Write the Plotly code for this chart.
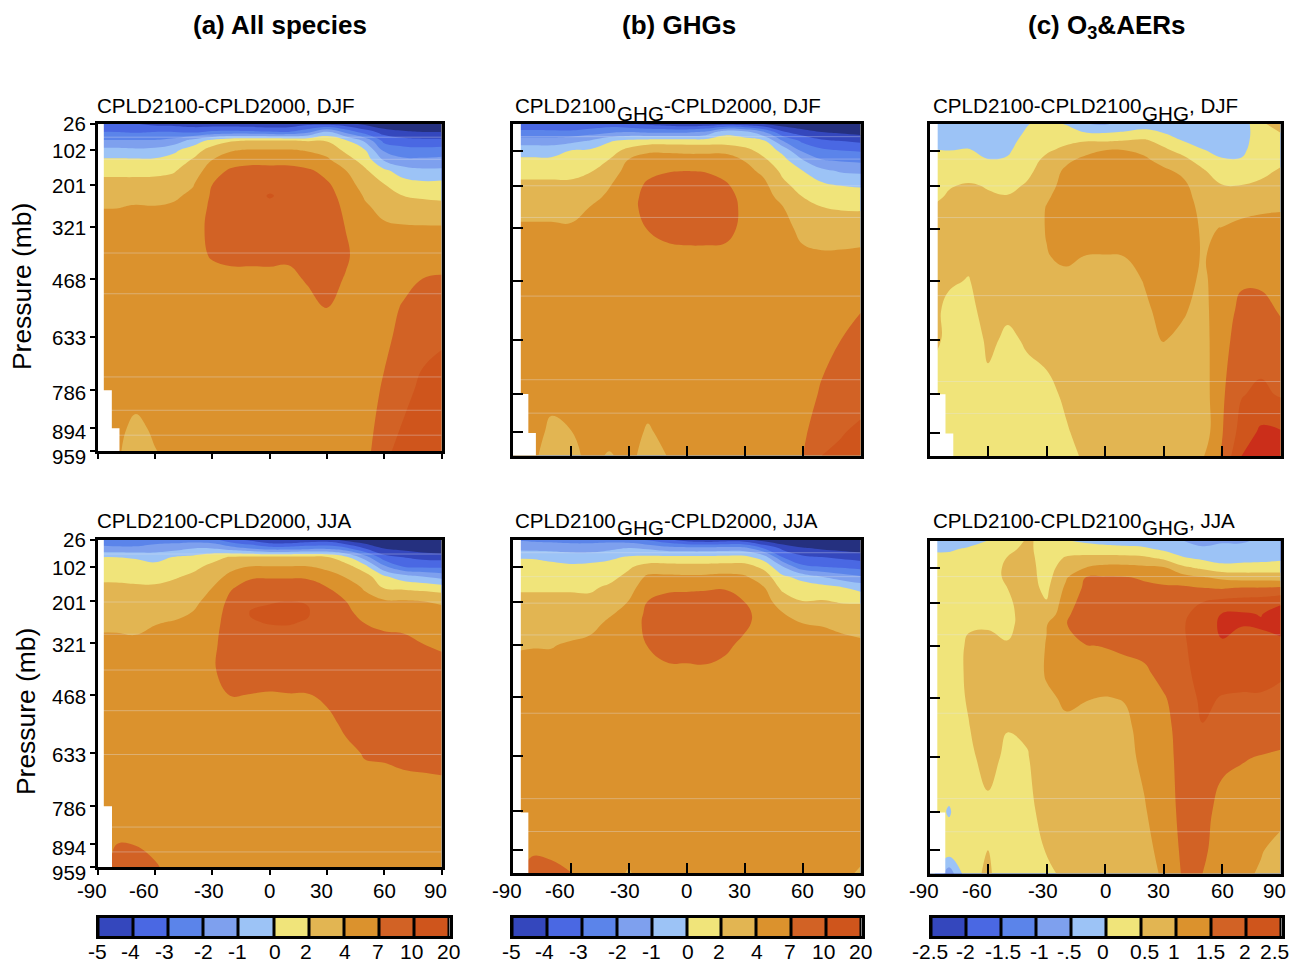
import numpy as np
import plotly.graph_objects as go

LATS = [-90,-80,-70,-60,-50,-40,-30,-20,-10,0,10,20,30,40,50,60,70,80,90]
PLEV = [26,50,75,102,130,160,201,232,260,321,400,468,550,633,786,894,959]
PTICKS = [26,102,201,321,468,633,786,894,959]
XTICKS = [-90,-60,-30,0,30,60,90]
LEVELS_K = [-5,-4,-3,-2,-1,0,2,4,7,10,20]
LEVELS_C = [-2.5,-2,-1.5,-1,-.5,0,.5,1,1.5,2,2.5]
LABELS_K = ["-5","-4","-3","-2","-1","0","2","4","7","10","20"]
LABELS_C = ["-2.5","-2","-1.5","-1","-.5","0","0.5","1","1.5","2","2.5"]
LABELPOS_K = [0,.96,1.92,3.02,3.98,5.02,5.9,7,7.94,8.88,9.94]
LABELPOS_C = [0,1,2.06,3.1,3.96,4.9,6.08,6.9,7.94,8.92,9.77]
XLABEL_SHIFT = [-4,-10,-3,0,-6,-1,-8]
YLABEL_DJF = [123,151,185,227,280,338,393,431,456]
YLABEL_JJA = [539,567,602,644,696,754,808,847,872]
NAVY = "#25307F"
RED = "#CB2E1A"
BANDS = ["#3447BD","#4A68E3","#5B84EA","#7EA0EE","#9CC3F6","#F0E47A","#E2B552","#DB922D","#D26225","#CF551C"]

# one row per latitude, one value per pressure level in PLEV
A_DJF = [
[-3.6,-3,-1.9,-.7,.3,1.5,2.6,3.3,3.9,5,5.5,5.5,5.5,5.5,5.5,5.5,5.5],
[-3.7,-3,-1.9,-.7,.3,1.5,2.6,3.3,3.9,5,5.5,5.5,5.5,5.5,5.5,5,4.5],
[-4,-3.1,-1.9,-.8,.3,1.5,2.6,3.4,4.1,5,5.5,5.5,5.5,5.5,5.5,3.4,3],
[-4.3,-3,-1.9,-.7,.3,1.5,2.7,3.4,4,5,5.5,5.5,5.5,5.5,5.5,4.6,3.9],
[-4.4,-3,-1.6,-.2,.8,1.8,3,3.7,4.3,5.2,5.5,5.5,5.5,5.5,5.5,5.5,5],
[-4.6,-3.2,-.6,1,2.2,3.1,3.9,4.6,5.2,5.8,6,5.8,5.5,5.5,5.5,5.5,5.5],
[-4.7,-2.8,.7,2.9,4,5.3,7,7.4,7.6,7.8,7.3,6,5.5,5.5,5.5,5.5,5.5],
[-4.7,-2.7,1.8,3.9,5,7.6,8.2,8.4,8.5,8.6,8,5.9,5.5,5.5,5.5,5.5,5.5],
[-4.8,-2.8,2.1,4.2,6,8,8.8,9.2,9.3,9,8,5.9,5.5,5.5,5.5,5.5,5.5],
[-5,-2.9,2.1,4.2,6,7.9,9.4,10.5,9.6,9.2,8,6,5.5,5.5,5.5,5.5,5.5],
[-4.8,-3,2.1,4.2,6,7.9,9,9.5,9.5,9,7.7,6.1,5.5,5.5,5.5,5.5,5.5],
[-4.4,-2.3,1.9,3.9,5,7.5,8.6,8.9,9,9,8.4,7.4,5.8,5.5,5.5,5.5,5.5],
[-4.6,-.8,1.9,3.3,4.5,6,7.5,8,8.3,8.6,8.5,8,7.1,5.5,5.5,5.5,5.5],
[-4.8,-2.3,.3,1.6,2.8,4,5.3,6,6.4,6.9,7.4,6.8,5.8,5.5,5.5,5.5,5.5],
[-5.3,-3.5,-1.2,.1,1.2,2.3,3.2,3.8,4.3,5,5.5,5.5,5.5,5.5,5.6,5.7,5.9],
[-6,-4.4,-3.3,-2.2,-1.1,.4,2.1,2.9,3.4,4.4,5,5.5,5.8,6.3,7.4,8.5,9.4],
[-6.3,-4.8,-3.6,-2.6,-1.8,-.5,.9,2,3,4.2,5,6,7.3,7.9,9,11,13],
[-6.5,-5,-3.7,-2.7,-1.8,-.8,.6,1.7,2.6,4.2,5.5,7,8,8.9,12.5,14,15],
[-6.5,-5,-3.7,-2.6,-1.7,-.8,.7,1.6,2.4,4.2,5.5,7.3,8.4,9.6,14,15,16],
]
B_DJF = [
[-3.6,-2.8,-1.5,-.4,.4,1.6,2.3,2.9,3.4,4.4,5.2,5.5,5.5,5.5,5.5,5.5,5.5],
[-3.6,-2.8,-1.5,-.4,.4,1.6,2.3,2.9,3.4,4.4,5.2,5.5,5.5,5.5,5.5,5.5,4.7],
[-3.7,-2.8,-1.5,-.4,.4,1.6,2.3,2.9,3.4,4.4,5.2,5.5,5.5,5.5,5,3.5,3.1],
[-3.9,-2.8,-1.3,0,.6,1.6,2.3,2.9,3.4,4.3,5.2,5.5,5.5,5.5,5.5,3.9,3.3],
[-3.8,-2.5,-.9,.3,1,1.9,2.6,3.4,4,4.9,5.3,5.5,5.5,5.5,5.5,5.5,4.9],
[-3.6,-2.2,-.1,1.1,2.1,3,3.9,4.5,5,5.5,5.5,5.5,5.5,5.5,5.5,5.3,3.8],
[-4,-2,.6,2.6,4.2,5,5.6,5.9,6,5.8,5.5,5.5,5.5,5.5,5.5,5.5,4.9],
[-4.3,-2.2,.9,3.7,5.2,6.3,7.5,7.9,8,7.1,5.7,5.5,5.5,5.5,5.5,3.7,3.2],
[-4.6,-2.2,1,3.7,5.3,6.9,7.9,8.4,8.5,8,6,5.5,5.5,5.5,5.5,5,4.05],
[-4.9,-2.2,1,3.6,5.2,7.05,8.2,8.7,8.8,8.2,6.2,5.5,5.5,5.5,5.5,5.5,5.5],
[-4.8,-1.8,1,3.6,5.2,6.9,8.1,8.6,8.7,8.2,6.2,5.5,5.5,5.5,5.5,5.5,5.5],
[-4.6,-.3,1,3.6,5.2,6.2,7.4,7.9,8,7.9,6.2,5.5,5.5,5.5,5.5,5.5,5.5],
[-4.8,-.6,.8,2.6,3.95,4.9,5.8,6.3,6.5,6.3,5.7,5.5,5.5,5.5,5.5,5.5,5.5],
[-5.2,-1.9,.3,1.3,2.4,3.6,4.7,5.2,5.4,5.5,5.5,5.5,5.5,5.5,5.5,5.5,5.5],
[-5.6,-3.9,-2,-.3,.7,1.5,2.5,3.3,4,4.9,5.4,5.5,5.5,5.5,5.6,5.7,5.8],
[-6,-4.5,-3.2,-2.2,-.9,.1,1.2,2,2.5,3.5,4.6,5.2,5.5,5.6,5.9,6.4,6.9],
[-6.5,-5,-3.8,-2.8,-1.9,-.7,.5,1.4,2,3.1,4.4,5.1,5.6,6.2,7.3,8.8,10],
[-6.8,-5.2,-4,-3,-2.1,-1.1,0,1.1,1.8,3,4.5,5.4,6.2,7,8.4,9.9,11],
[-7,-5.4,-4.2,-3.1,-2.2,-1.2,-.1,1,1.7,3.2,4.6,5.7,6.9,7.9,9.4,11,13],
]
C_DJF = [
[-.4,-.3,-.15,.05,.15,.22,.3,.38,.5,.6,.65,.6,.65,.65,.3,.3,.3],
[-.35,-.3,-.15,0,.1,.2,.47,.55,.6,.65,.65,.55,.4,.4,.3,.3,.3],
[-.3,-.25,-.12,.03,.15,.3,.55,.6,.62,.62,.58,.48,.35,.3,.25,.25,.25],
[-.3,-.25,-.2,-.1,.02,.15,.47,.55,.6,.63,.65,.68,.7,.56,.42,.3,.25],
[-.28,-.22,-.15,-.07,.06,.2,.38,.53,.6,.65,.68,.65,.55,.45,.35,.25,.25],
[-.03,.05,.15,.25,.32,.4,.55,.6,.65,.68,.7,.68,.62,.53,.4,.3,.25],
[.15,.2,.3,.45,.6,.7,.8,.93,1.02,1.03,.97,.8,.7,.6,.42,.35,.3],
[-.05,.25,.42,.6,.9,1.1,1.2,1.25,1.3,1.25,1.1,.85,.75,.65,.55,.47,.4],
[-.52,-.03,.48,.85,1.15,1.3,1.4,1.42,1.42,1.3,.98,.8,.75,.7,.65,.6,.55],
[-.58,-.05,.47,1.02,1.25,1.35,1.42,1.45,1.45,1.35,.97,.8,.75,.7,.65,.6,.58],
[-.35,.02,.53,1.02,1.2,1.35,1.42,1.45,1.45,1.35,1,.8,.75,.7,.65,.6,.58],
[-.3,.15,.58,.9,1.1,1.3,1.4,1.42,1.42,1.35,1.2,1.02,.9,.8,.7,.65,.6],
[-.25,-.03,.35,.6,.85,1.1,1.25,1.3,1.35,1.35,1.3,1.25,1.15,1.02,.75,.65,.6],
[-.3,-.2,0,.35,.65,.9,1.12,1.2,1.25,1.3,1.3,1.2,1.05,.9,.75,.65,.6],
[-.25,-.2,-.1,.02,.3,.58,.7,.78,.85,.93,.95,.9,.85,.8,.75,.7,.95],
[-.3,-.25,-.15,-.08,.03,.2,.53,.65,.75,1.02,1.2,1.25,1.3,1.35,1.42,1.47,1.55],
[-.3,-.25,-.15,-.07,.03,.2,.52,.72,.88,1.1,1.3,1.45,1.6,1.7,1.97,2.2,2.5],
[.42,.3,.22,.2,.25,.4,.58,.75,.95,1.1,1.3,1.45,1.6,1.75,2.1,2.6,2.8],
[.75,.52,.3,.3,.42,.55,.7,.85,.97,1.1,1.2,1.3,1.47,1.6,1.95,2.55,2.9],
]
A_JJA = [
[-2.5,-1.7,0,.8,1.6,2.3,2.9,3.2,3.6,4.6,5.3,5.5,5.5,5.5,5.5,5.5,5.5],
[-2.6,-1.8,0,.8,1.6,2.3,2.9,3.2,3.6,4.6,5.3,5.5,5.5,5.5,5.8,7,7.6],
[-2.6,-1.8,-.1,.8,1.5,2.2,2.8,3.2,3.6,4.4,5.3,5.5,5.5,5.5,5.8,6.95,7.7],
[-2.4,-1.6,-.3,.5,1.4,2.2,2.8,3.4,3.9,4.8,5.4,5.5,5.5,5.5,5.7,6,7.4],
[-2.4,-1.4,.1,1,1.8,2.5,3,3.6,4.1,5,5.5,5.5,5.5,5.5,5.5,5.5,5.8],
[-2.4,-1,.5,1.6,2.3,2.8,3.6,4.05,4.6,5.4,5.5,5.5,5.5,5.5,5.5,5.5,5.5],
[-2.6,-1,1.4,2.4,3.2,3.95,4.9,5.5,5.8,6.3,6.6,6.3,5.6,5.5,5.5,5.5,5.5],
[-3.6,-1.5,2.2,3.5,4.8,6.7,7.9,8.3,8.5,8.7,8.4,7.1,5.6,5.5,5.5,5.5,5.5],
[-4.2,-2,2.5,4.1,6.6,8,9.6,10.3,9.9,9,8.2,6.95,5.6,5.5,5.5,5.5,5.5],
[-4.9,-2.5,2.5,4.1,6.7,8.2,9.9,10.8,10.3,9.3,8.2,6.8,5.6,5.5,5.5,5.5,5.5],
[-4.9,-2.5,2.5,4.1,6.7,8.2,10,10.9,10.4,9.3,8.4,6.9,5.7,5.5,5.5,5.5,5.5],
[-4.6,-2.3,2.5,4.1,6.6,8.1,9.9,10.5,9.9,9.2,8.3,6.9,5.8,5.5,5.5,5.5,5.5],
[-4.5,-2.2,2.2,3.6,5,7,8.2,8.8,8.9,8.8,8.3,7.5,6.3,5.5,5.5,5.5,5.5],
[-5.3,-2.7,.4,2.9,3.9,5,7,7.8,8.1,8.4,8.5,8.2,7.5,6.4,5.5,5.5,5.5],
[-5.8,-4,-1.5,.7,2.9,3.8,4.7,5.7,6.9,7.9,8.5,8.6,8,7.2,5.6,5.5,5.5],
[-6.2,-5,-3.6,-1.8,.3,1.7,4.4,5.8,6.4,7.8,8.4,8.6,8,7.3,5.7,5.5,5.5],
[-6.6,-5.3,-4,-3,-.6,1.5,4.3,5.5,6.2,7.7,8.3,8.5,8.2,7.6,5.7,5.5,5.5],
[-7,-5.6,-4.3,-3.2,-1,1.2,4,4.9,5.4,7,8,8.5,8.3,7.7,5.8,5.5,5.5],
[-7.2,-5.8,-4.4,-3.2,-1.4,.8,3.8,4.6,5.2,6.7,7.7,8.3,8.4,7.8,5.9,5.5,5.5],
]
B_JJA = [
[-2.1,-1.3,-.1,.8,1.3,1.8,2.4,2.8,3.1,3.8,4.9,5.5,5.5,5.5,5.5,5.5,5.5],
[-2.2,-1.4,-.1,.8,1.3,1.8,2.4,2.8,3.1,3.9,5,5.5,5.5,5.5,5.5,6.6,8],
[-2.3,-1.4,-.3,.6,1.2,1.8,2.4,2.8,3.1,3.9,5,5.5,5.5,5.5,5.5,6.6,7.5],
[-2.4,-1.5,-.5,.4,1.1,1.8,2.4,2.8,3.1,4.3,5.2,5.5,5.5,5.5,5.5,6.3,7.1],
[-2.4,-1.5,-.5,.6,1.2,1.7,2.5,3,3.5,4.6,5.3,5.5,5.5,5.5,5.5,5.5,5.5],
[-2.4,-1.3,-.2,.7,1.4,2.3,3,3.8,4.4,5.1,5.5,5.5,5.5,5.5,5.5,5.5,5.5],
[-2.6,-1,.2,1.7,2.5,3.2,4.1,4.7,5.1,5.6,5.7,5.5,5.5,5.5,5.5,5.3,3.8],
[-3.2,-1.2,.4,2.8,4.5,5.8,7.1,7.7,7.9,7.1,5.8,5.5,5.5,5.5,5.5,5.5,5.5],
[-3.9,-1.6,.4,2.8,4.5,6.5,7.8,8.4,8.6,8,6.4,5.5,5.5,5.5,5.5,5.5,5.5],
[-4.6,-1.7,.4,2.7,4.4,6.6,7.9,8.5,8.7,8.1,6.4,5.6,5.5,5.5,5.5,5.5,5.5],
[-4.9,-1.7,.4,2.7,4.5,6.7,8,8.6,8.8,8.1,6.5,5.6,5.5,5.5,5.5,5.5,5.5],
[-4.7,-1.6,.5,2.8,4.7,6.8,8,8.5,8.7,7.6,6,5.5,5.5,5.5,5.5,5.5,5.5],
[-4.8,-1.7,.5,2.8,4.3,5.5,7,7.8,7.6,6.3,5.7,5.5,5.5,5.5,5.5,5.5,5.5],
[-5.5,-3.1,-.5,1.5,3,4.1,5,5.6,5.8,5.7,5.5,5.5,5.5,5.5,5.5,5.5,5.5],
[-6,-4.3,-3.1,-1,.3,1.4,3.2,4.05,4.5,5.3,5.5,5.5,5.5,5.5,5.5,5.5,5.5],
[-6.4,-4.9,-3.8,-2.8,-.3,.8,2.1,3,4,5,5.5,5.5,5.5,5.5,5.5,5.5,5.5],
[-6.6,-5.2,-4,-3,-1,.7,2.2,3.1,3.9,4.8,5.4,5.5,5.5,5.5,5.5,5.5,5.5],
[-6.9,-5.4,-4.2,-3.2,-1.5,.1,1.9,2.8,3.6,4.7,5.4,5.5,5.5,5.5,5.5,5.5,5.3],
[-7.2,-5.6,-4.4,-3.4,-1.9,-.4,1.9,2.6,3.3,4.5,5.3,5.5,5.5,5.5,5.5,5.5,3.6],
]
C_JJA = [
[-.3,-.05,.1,.2,.25,.3,.3,.3,.3,.35,.35,.35,.35,.35,.3,.3,.3],
[-.25,-.05,.1,.2,.25,.3,.32,.33,.35,.35,.38,.4,.42,.42,-.05,.3,-.8],
[-.15,.05,.15,.2,.25,.3,.35,.42,.47,.54,.54,.52,.49,.45,.4,.4,.4],
[0,.1,.2,.25,.3,.33,.38,.42,.47,.58,.62,.65,.62,.58,.45,.5,.55],
[.2,.4,.52,.6,.58,.5,.44,.42,.44,.52,.6,.62,.51,.45,.4,.35,.3],
[.55,.6,.65,.7,.7,.68,.65,.63,.6,.6,.62,.6,.57,.47,.42,.35,.3],
[.4,.3,.28,.28,.32,.4,.53,.62,.97,1.03,1.05,.9,.85,.75,.6,.52,.4],
[.02,.3,.54,.75,.95,1.1,1.25,1.4,1.48,1.47,1.3,1.08,.9,.8,.7,.63,.6],
[-.1,.25,.62,1,1.5,1.6,1.75,1.8,1.8,1.48,1.25,1.02,.85,.8,.75,.7,.65],
[-.2,.2,.65,1.15,1.55,1.65,1.78,1.85,1.85,1.52,1.25,.98,.85,.8,.75,.7,.65],
[-.25,.15,.65,1.15,1.53,1.65,1.8,1.88,1.85,1.6,1.3,1.02,.9,.85,.75,.7,.65],
[-.3,.1,.6,1.1,1.45,1.6,1.75,1.85,1.85,1.65,1.4,1.25,1.15,1.1,.95,.8,.7],
[-.4,-.1,.4,1.05,1.3,1.6,1.8,1.9,1.9,1.8,1.65,1.45,1.35,1.3,1.28,1.2,1.1],
[-.5,-.3,.05,.6,1.2,1.6,1.8,1.93,1.97,1.93,1.85,1.75,1.7,1.68,1.62,1.58,1.55],
[-.6,-.45,-.1,.4,1.05,1.52,2.02,2.15,2.2,2.25,2.2,2.1,1.98,1.8,1.65,1.6,1.5],
[-.55,-.4,-.25,.2,.9,1.47,2.2,2.52,2.6,2.45,2.2,1.97,1.8,1.6,1.35,1.25,1.2],
[-.55,-.4,-.2,.2,.8,1.55,2.25,2.55,2.53,2.3,2.15,1.95,1.75,1.53,1.3,1.2,1.1],
[-.45,-.35,-.15,.2,.8,1.55,2.3,2.48,2.55,2.35,2.15,1.95,1.75,1.48,1.25,1.03,.95],
[-.35,-.3,-.1,.25,.75,1.6,2.45,2.7,2.7,2.35,2.05,1.9,1.65,1.45,1.15,.85,.7],
]

# missing-data steps: (edge latitude, starting pressure)
MASK_A_DJF = [(-86.7,26),(-82.5,786),(-78.5,894)]
MASK_B_DJF = [(-85.7,26),(-81.8,786),(-77.9,896)]
MASK_C_DJF = [(-85.8,26),(-81.8,786),(-77.8,896)]
MASK_A_JJA = [(-86.7,26),(-82.4,786)]
MASK_B_JJA = [(-85.7,26),(-81.8,790)]
MASK_C_JJA = [(-86,26),(-81.9,788)]

# faint model-level hairlines (pressure)
HAIR_A_DJF = [65,128,395,511,748,843,914]
HAIR_B_DJF = [63,126,201,290,511,746,840]
HAIR_C_DJF = [126,201,290,509,750,840]
HAIR_A_JJA = [66,203,295,397,513,638,845,916]
HAIR_B_JJA = [63,130,204,293,512,751,843]
HAIR_C_JJA = [127,201,290,510,749,842]

W, H = 1292, 963
FONT = "Liberation Sans"

PANELS = [
 (A_DJF, LEVELS_K, MASK_A_DJF, HAIR_A_DJF, (96,443,122,452.5), "outside", YLABEL_DJF, False),
 (B_DJF, LEVELS_K, MASK_B_DJF, HAIR_B_DJF, (511,862,122,457), "inside", None, False),
 (C_DJF, LEVELS_C, MASK_C_DJF, HAIR_C_DJF, (928,1282,122,457.5), "inside", None, False),
 (A_JJA, LEVELS_K, MASK_A_JJA, HAIR_A_JJA, (96,443,538.5,868.5), "outside", YLABEL_JJA, True),
 (B_JJA, LEVELS_K, MASK_B_JJA, HAIR_B_JJA, (511,862,538,874.5), "inside", None, True),
 (C_JJA, LEVELS_C, MASK_C_JJA, HAIR_C_JJA, (928,1282,539,875), "inside", None, True),
]
CBARS = [
 (LABELS_K, LABELPOS_K, (97,451,916,937.5)),
 (LABELS_K, LABELPOS_K, (511,863,916,937.5)),
 (LABELS_C, LABELPOS_C, (930,1283,916,937.5)),
]

def to_band(z, lev):
    z = np.asarray(z, float)
    idx = np.interp(z, lev, np.arange(len(lev)))
    idx = np.where(z < lev[0], (z - lev[0]) / (lev[1] - lev[0]), idx)
    idx = np.where(z > lev[-1], 10 + (z - lev[-1]) / (lev[-1] - lev[-2]), idx)
    return idx

scale = [[i / 11, c] for i, c in enumerate([NAVY] + BANDS + [RED])]
fig = go.Figure()

def dom(b):
    # the 3 px frame is drawn outside the plot area, so inset by half of it
    x0, x1, y0, y1 = b
    return [(x0 + 1.5) / W, (x1 - 1.5) / W], [1 - (y1 - 1.5) / H, 1 - (y0 + 1.5) / H]

def text(s, x, y, size=20.6, anchor="left", bold=False, angle=0):
    fig.add_annotation(text=f"<b>{s}</b>" if bold else s, x=x / W, y=1 - y / H, xref="paper", yref="paper",
        xanchor=anchor, yanchor="middle", showarrow=False, textangle=angle,
        font=dict(family=FONT, size=size, color="black"), borderpad=0)

n = 0
for data, lev, mask, hair, box, tickdir, ylabels, xlabels in PANELS:
    n += 1
    xa, ya = ("x" if n == 1 else f"x{n}"), ("y" if n == 1 else f"y{n}")
    fig.add_trace(go.Contour(x=LATS, y=PLEV, z=to_band(data, lev).T, xaxis=xa, yaxis=ya,
        autocontour=False, contours=dict(start=0, end=10, size=1, coloring="fill", showlines=False),
        colorscale=scale, showscale=False, line=dict(width=0, smoothing=1.2), hoverinfo="skip"))
    for p in hair:
        fig.add_trace(go.Scatter(x=[-90, 90], y=[p, p], xaxis=xa, yaxis=ya, mode="lines",
            line=dict(color="rgba(225,230,240,0.35)", width=1), hoverinfo="skip", showlegend=False))
    mx, my = [], []
    for i, (lat, p) in enumerate(mask):
        pend = mask[i + 1][1] if i + 1 < len(mask) else PLEV[-1]
        mx += [lat, lat]
        my += [p, pend]
    mx += [-90, -90]
    my += [PLEV[-1], PLEV[0]]
    fig.add_trace(go.Scatter(x=mx, y=my, xaxis=xa, yaxis=ya, mode="none", fill="toself",
        fillcolor="white", hoverinfo="skip", showlegend=False))
    dx, dy = dom(box)
    ticklen = 5 if tickdir == "outside" else 10
    ax = dict(domain=dx, anchor=ya, range=[-90, 90], tickmode="array", tickvals=XTICKS, automargin=False,
        ticks=tickdir, ticklen=ticklen, tickwidth=2, tickcolor="black", showticklabels=False,
        showline=True, mirror=True, linecolor="black", linewidth=3, showgrid=False, zeroline=False)
    ay = dict(domain=dy, anchor=xa, range=[959, 26], tickmode="array", tickvals=PTICKS, automargin=False,
        ticks=tickdir, ticklen=ticklen, tickwidth=2, tickcolor="black", showticklabels=False,
        showline=True, mirror=True, linecolor="black", linewidth=3, showgrid=False, zeroline=False)
    fig.update_layout({("xaxis" if n == 1 else f"xaxis{n}"): ax, ("yaxis" if n == 1 else f"yaxis{n}"): ay})
    if ylabels:
        for v, y in zip(PTICKS, ylabels):
            text(str(v), 86.5, y, 20.5, "right")
    if xlabels:
        for v, shift in zip(XTICKS, XLABEL_SHIFT):
            text(str(v), box[0] + (v + 90) / 180 * (box[1] - box[0]) + shift, 890, 20.5, "center")

for labels, pos, box in CBARS:
    n += 1
    xa, ya = f"x{n}", f"y{n}"
    fig.add_trace(go.Heatmap(z=[list(range(10))], x=[i + .5 for i in range(10)], y=[0], xaxis=xa, yaxis=ya,
        colorscale=[[i / 9, c] for i, c in enumerate(BANDS)], zmin=0, zmax=9, showscale=False,
        xgap=3, hoverinfo="skip"))
    dx, dy = dom(box)
    fig.update_layout({
        f"xaxis{n}": dict(domain=dx, anchor=ya, range=[0, 10], tickmode="array", tickvals=list(range(11)),
            showticklabels=False, ticks="", showline=True, mirror=True, linecolor="black", linewidth=3,
            showgrid=False, zeroline=False, automargin=False),
        f"yaxis{n}": dict(domain=dy, anchor=xa, range=[-.5, .5], showticklabels=False, ticks="", automargin=False,
            showline=True, mirror=True, linecolor="black", linewidth=3, showgrid=False, zeroline=False),
    })
    for lab, q in zip(labels, pos):
        text(lab, box[0] + q / 10 * (box[1] - box[0]), 951.5, 21, "center")

text("(a) All species", 279.5, 25, 26, "center", True)
text("(b) GHGs", 678.5, 25, 26, "center", True)
text("(c) O<sub>3</sub>&amp;AERs", 1106.5, 26, 26, "center", True)
text("Pressure (mb)", 22, 287, 26.4, "center", angle=-90)
text("Pressure (mb)", 26, 712, 26.4, "center", angle=-90)
for season, y in (("DJF", 106), ("JJA", 520)):
    text(f"CPLD2100-CPLD2000, {season}", 96, y)
    text("CPLD2100", 514, y)
    text("GHG", 616, y + 7)
    text(f"-CPLD2000, {season}", 663, y)
    text("CPLD2100-CPLD2100", 932, y)
    text("GHG", 1141, y + 7)
    text(f", {season}", 1188, y)

fig.update_layout(width=W, height=H, margin=dict(l=0, r=0, t=0, b=0), autosize=False,
    paper_bgcolor="white", plot_bgcolor="black", showlegend=False)
fig.write_html("out.html", config={"displayModeBar": False},
    post_script="document.body.style.margin='0';document.body.style.overflow='hidden';")
